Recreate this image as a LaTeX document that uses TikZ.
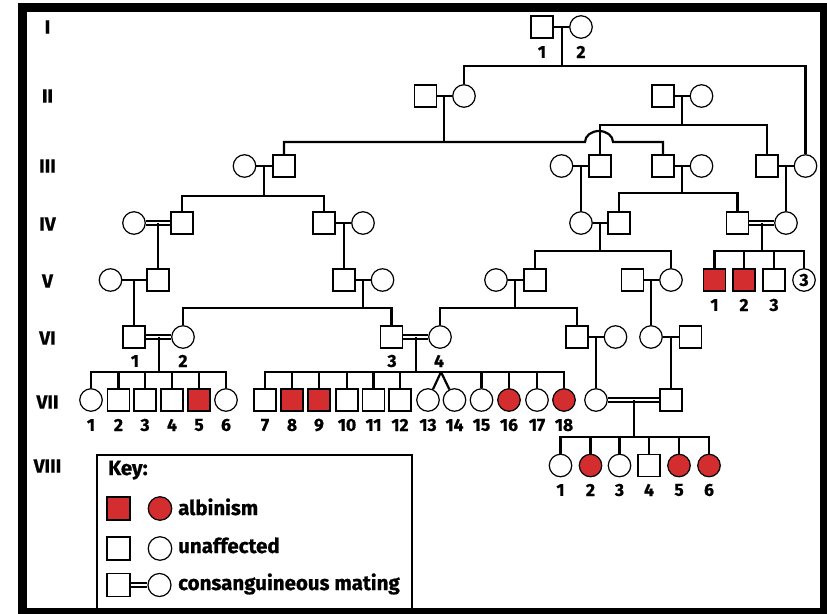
\documentclass[tikz,border=0pt]{standalone}
\usepackage{fontspec}
\setmainfont{Fira Sans}[BoldFeatures={FakeBold=0.8}]
\definecolor{albred}{RGB}{211,45,48}
\begin{document}
\begin{tikzpicture}[x=1pt,y=-1pt,
  psq/.style={draw, rectangle, minimum size=22pt, inner sep=0pt, line width=1.2pt, fill=white},
  pci/.style={draw, circle, minimum size=22.5pt, inner sep=0pt, line width=1.2pt, fill=white},
  paff/.style={fill=albred},
  conn/.style={line width=2.2pt},
  dbl/.style={double, double distance=2.4pt, line width=1.4pt},
  gen/.style={font=\bfseries\fontsize{19}{19}\selectfont, inner sep=0pt},
  lab/.style={font=\bfseries\fontsize{17.5}{17.5}\selectfont, inner sep=0pt},
  keytxt/.style={font=\bfseries\fontsize{20.5}{20.5}\selectfont, anchor=base west, inner sep=0pt}]
\useasboundingbox (0,0) rectangle (827,613);
\fill[white] (0,0) rectangle (827,613);
\draw[line width=9pt] (22.5,7.5) rectangle (824.5,612.5);

% generation labels
\node[gen] (gI) at (47.5,27) {I};
\node[gen] (gII) at (47.5,96) {II};
\node[gen] (gIII) at (47.5,166) {III};
\node[gen] (gIV) at (47.5,224) {IV};
\node[gen] (gV) at (47.5,281) {V};
\node[gen] (gVI) at (47.5,338) {VI};
\node[gen] (gVII) at (47.5,402) {VII};
\node[gen] (gVIII) at (47.5,466) {VIII};

% Gen I
\node[psq] (I1) at (542,27) {};
\node[pci] (I2) at (581,27) {};
% Gen II
\node[psq] (II1) at (425.5,96) {};
\node[pci] (II2) at (464,96) {};
\node[psq] (II3) at (663,96) {};
\node[pci] (II4) at (701.5,96) {};
% Gen III
\node[pci] (III1) at (244.5,166) {};
\node[psq] (III2) at (284,166) {};
\node[pci] (III3) at (561.5,166) {};
\node[psq] (III4) at (600,166) {};
\node[psq] (III5) at (663,166) {};
\node[pci] (III6) at (701.5,166) {};
\node[psq] (III7) at (767,166) {};
\node[pci] (III8) at (805.5,166) {};
% Gen IV
\node[pci] (IV1) at (134,223) {};
\node[psq] (IV2) at (182,223) {};
\node[psq] (IV3) at (324,223) {};
\node[pci] (IV4) at (363,223) {};
\node[pci] (IV5) at (581,223) {};
\node[psq] (IV6) at (619,223) {};
\node[psq] (IV7) at (737.5,223) {};
\node[pci] (IV8) at (786,223) {};
% Gen V
\node[pci] (V1) at (110.5,280) {};
\node[psq] (V2) at (158,280) {};
\node[psq] (V3) at (344,280) {};
\node[pci] (V4) at (382.5,280) {};
\node[pci] (V5) at (496,280) {};
\node[psq] (V6) at (535,280) {};
\node[psq] (V7) at (632.5,280) {};
\node[pci] (V8) at (671,280) {};
\node[psq,paff] (V9) at (714.5,280) {};
\node[psq,paff] (V10) at (744,280) {};
\node[psq] (V11) at (774,280) {};
\node[pci,lab] (V12) at (804,280) {3};
% Gen VI
\node[psq] (VI1) at (134,337) {};
\node[pci] (VI2) at (183,337) {};
\node[psq] (VI3) at (391.5,337) {};
\node[pci] (VI4) at (440,337) {};
\node[psq] (VI5) at (577,337) {};
\node[pci] (VI6) at (615.5,337) {};
\node[pci] (VI7) at (651,337) {};
\node[psq] (VI8) at (690.5,337) {};
% Gen VII
\node[pci] (VII1) at (91,400) {};
\node[psq] (VII2) at (118.5,400) {};
\node[psq] (VII3) at (145,400) {};
\node[psq] (VII4) at (172,400) {};
\node[psq,paff] (VII5) at (199,400) {};
\node[pci] (VII6) at (226,400) {};
\node[psq] (VII7) at (265,400) {};
\node[psq,paff] (VII8) at (292,400) {};
\node[psq,paff] (VII9) at (319,400) {};
\node[psq] (VII10) at (347,400) {};
\node[psq] (VII11) at (373.5,400) {};
\node[psq] (VII12) at (400,400) {};
\node[pci] (VII13) at (428,400) {};
\node[pci] (VII14) at (454.5,400) {};
\node[pci] (VII15) at (481.5,400) {};
\node[pci,paff] (VII16) at (509,400) {};
\node[pci] (VII17) at (537,400) {};
\node[pci,paff] (VII18) at (564,400) {};
\node[pci] (VII19) at (596,400) {};
\node[psq] (VII20) at (671,400) {};
% Gen VIII
\node[pci] (VIII1) at (560.5,465.5) {};
\node[pci,paff] (VIII2) at (590.5,465.5) {};
\node[pci] (VIII3) at (619.5,465.5) {};
\node[psq] (VIII4) at (649,465.5) {};
\node[pci,paff] (VIII5) at (679,465.5) {};
\node[pci,paff] (VIII6) at (709,465.5) {};

% marriage and sibship coordinates
\coordinate (mI) at (562,27);     \coordinate (sI) at (562,66);
\coordinate (mIIa) at (444,96);   \coordinate (sIIa) at (444,142);
\coordinate (mIIb) at (682,96);   \coordinate (sIIb) at (682,125);
\coordinate (mIIIa) at (264,166); \coordinate (sIIIa) at (264,196);
\coordinate (mIIIb) at (581,166);
\coordinate (mIIIc) at (682,166); \coordinate (sIIIc) at (682,193);
\coordinate (mIIId) at (786,166);
\coordinate (mIVa) at (158,223);
\coordinate (mIVb) at (344,223);
\coordinate (mIVc) at (600,223);  \coordinate (sIVc) at (600,251);
\coordinate (mIVd) at (762,223);  \coordinate (sIVd) at (762,251);
\coordinate (mVa) at (134,280);
\coordinate (mVb) at (363,280);   \coordinate (sVb) at (363,308);
\coordinate (mVc) at (515,280);   \coordinate (sVc) at (515,308);
\coordinate (mVd) at (651,280);
\coordinate (mVIa) at (159,337);  \coordinate (sVIa) at (159,372);
\coordinate (mVIb) at (416,337);  \coordinate (sVIb) at (416,372);
\coordinate (mVIc) at (596,337);
\coordinate (mVId) at (671,337);
\coordinate (mVII) at (634,400);  \coordinate (sVII) at (634,437);
\coordinate (jL) at (585,142); \coordinate (jR) at (613,142);
\coordinate (tw) at (441,372);

% marriages
\draw[conn] (I1) -- (I2);
\draw[conn] (II1) -- (II2);
\draw[conn] (II3) -- (II4);
\draw[conn] (III1) -- (III2);
\draw[conn] (III3) -- (III4);
\draw[conn] (III5) -- (III6);
\draw[conn] (III7) -- (III8);
\draw[dbl] (IV1) -- (IV2);
\draw[conn] (IV3) -- (IV4);
\draw[conn] (IV5) -- (IV6);
\draw[dbl] (IV7) -- (IV8);
\draw[conn] (V1) -- (V2);
\draw[conn] (V3) -- (V4);
\draw[conn] (V5) -- (V6);
\draw[conn] (V7) -- (V8);
\draw[dbl] (VI1) -- (VI2);
\draw[dbl] (VI3) -- (VI4);
\draw[conn] (VI5) -- (VI6);
\draw[conn] (VI7) -- (VI8);
\draw[dbl] (VII19) -- (VII20);

% descents
\draw[conn] (mI) -- (sI);
\draw[conn] (mIIa) -- (sIIa);
\draw[conn] (mIIb) -- (sIIb);
\draw[conn] (mIIIa) -- (sIIIa);
\draw[conn] (mIIIc) -- (sIIIc);
\draw[conn] (mIVc) -- (sIVc);
\draw[conn] (mIVd) -- (sIVd);
\draw[conn] (mVb) -- (sVb);
\draw[conn] (mVc) -- (sVc);
\draw[conn] (mVIa) -- (sVIa);
\draw[conn] (mVIb) -- (sVIb);
\draw[conn] (mVII) -- (sVII);
\draw[conn] (mIIIb) -- (IV5.north);
\draw[conn] (mIIId) -- (IV8.north);
\draw[conn] (mIVa) -- (V2.north);
\draw[conn] (mIVb) -- (V3.north);
\draw[conn] (mVa) -- (VI1.north);
\draw[conn] (mVd) -- (VI7.north);
\draw[conn] (mVIc) -- (VII19.north);
\draw[conn] (mVId) -- (VII20.north);

% children
\draw[conn] (II2.north) |- (sI) -| (III8.north);
\draw[conn] (III4.north) |- (sIIb) -| (III7.north);
\draw[conn] (III2.north) |- (sIIa) -- (jL) arc[start angle=180, end angle=360, x radius=14, y radius=11] -| (III5.north);
\draw[conn] (IV2.north) |- (sIIIa) -| (IV3.north);
\draw[conn] (IV6.north) |- (sIIIc) -| (IV7.north);
\draw[conn] (V6.north) |- (sIVc) -| (V8.north);
\draw[conn] (V9.north) |- (sIVd) -| (V12.north);
\draw[conn] (V10.north) -- (V10.north |- sIVd);
\draw[conn] (V11.north) -- (V11.north |- sIVd);
\draw[conn] (VI2.north) |- (sVb) -| (VI3.north);
\draw[conn] (VI4.north) |- (sVc) -| (VI5.north);
\draw[conn] (VII1.north) |- (sVIa) -| (VII6.north);
\foreach \k in {2,3,4,5} {\draw[conn] (VII\k.north) -- (VII\k.north |- sVIa);}
\draw[conn] (VII7.north) |- (sVIb) -| (VII18.north);
\foreach \k in {8,9,10,11,12,15,16,17} {\draw[conn] (VII\k.north) -- (VII\k.north |- sVIb);}
\draw[conn] (tw) -- (VII13);
\draw[conn] (tw) -- (VII14);
\draw[conn] (VIII1.north) |- (sVII) -| (VIII6.north);
\foreach \k in {2,3,4,5} {\draw[conn] (VIII\k.north) -- (VIII\k.north |- sVII);}

% number labels
\node[lab] (lI1) at (542,52) {1};
\node[lab] (lI2) at (581,52) {2};
\node[lab] (lV1) at (714.5,305) {1};
\node[lab] (lV2) at (744,305) {2};
\node[lab] (lV3) at (774,305) {3};
\node[lab] (lVI1) at (135,361) {1};
\node[lab] (lVI2) at (183,361) {2};
\node[lab] (lVI3) at (392,361) {3};
\node[lab] (lVI4) at (439,361) {4};
\foreach \k/\x in {1/91,2/118.5,3/145,4/172,5/199,6/226,7/265,8/292,9/319,10/347,11/373.5,12/400,13/428,14/454.5,15/481.5,16/509,17/537,18/564}
  {\node[lab] (lVII\k) at (\x,425) {\k};}
\foreach \k/\x in {1/560.5,2/590.5,3/619.5,4/649,5/679,6/709}
  {\node[lab] (lVIII\k) at (\x,490) {\k};}

% key
\draw[line width=1.3pt] (97,612) -- (97,455) -- (412,455) -- (412,612);
\node[keytxt] (ktitle) at (108,475) {Key:};
\node[psq,paff,minimum size=23pt] (kA1) at (118.5,508.5) {};
\node[pci,paff,minimum size=23.5pt] (kA2) at (160,508.5) {};
\node[keytxt] (kAt) at (178,515) {albinism};
\node[psq,minimum size=23pt] (kU1) at (118.5,548.5) {};
\node[pci,minimum size=23.5pt] (kU2) at (160,548.5) {};
\node[keytxt] (kUt) at (178,553) {unaffected};
\node[psq,minimum size=23pt] (kC1) at (118.5,585) {};
\node[pci,minimum size=23pt] (kC2) at (159.5,585) {};
\draw[dbl] (kC1) -- (kC2);
\node[keytxt] (kCt) at (178,590) {consanguineous mating};
\end{tikzpicture}
\end{document}
